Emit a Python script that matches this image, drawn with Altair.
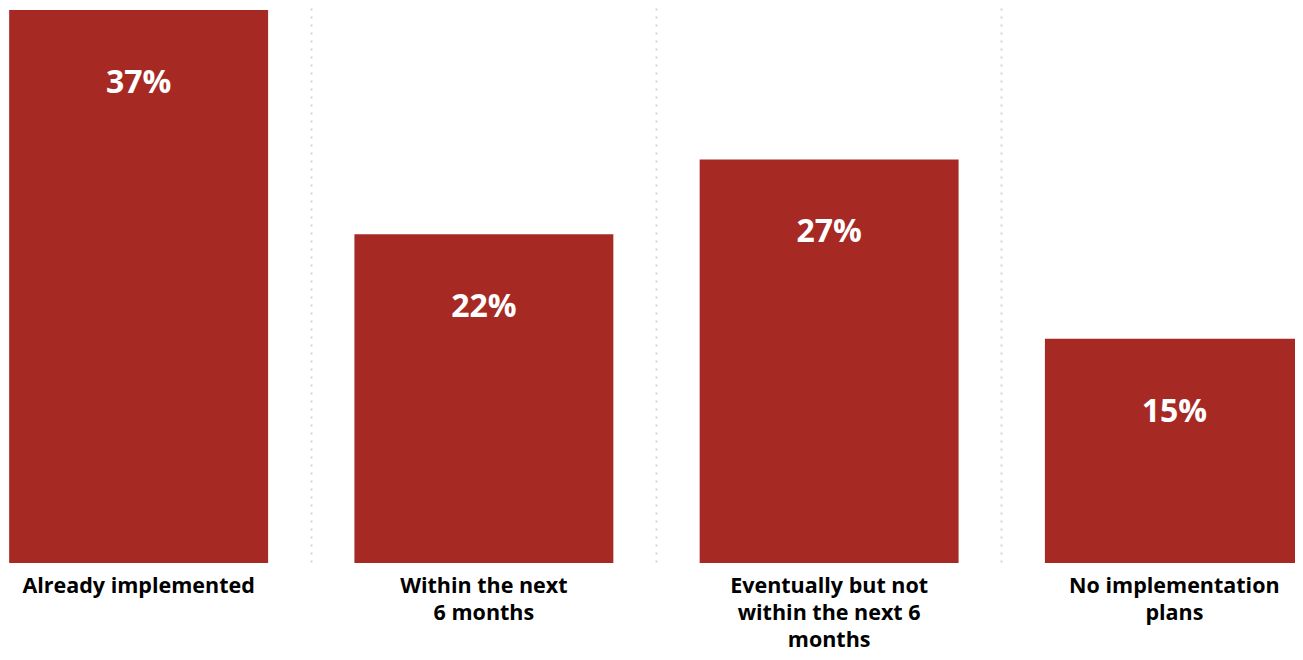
import altair as alt
import pandas as pd

categories = ["Already implemented", "Within the next|6 months",
              "Eventually but not|within the next 6|months", "No implementation|plans"]
values = [37, 22, 27, 15]
labels = ["37%", "22%", "27%", "15%"]

df = pd.DataFrame({"cat": categories, "val": values, "lab": labels})

x = alt.X("cat:N", sort=categories, title=None,
          scale=alt.Scale(range=[-42, 1339], paddingInner=0.25, paddingOuter=0.125),
          axis=alt.Axis(labelExpr="split(datum.label, '|')", labelAngle=0,
                        labelFont="Open Sans", labelFontWeight="bold", labelFontSize=21.5,
                        labelColor="#000000", labelLineHeight=27, labelPadding=12,
                        labelLimit=400, domain=False, ticks=False,
                        grid=True, bandPosition=-0.1667, gridColor="#d6d6d6",
                        gridDash=[2, 6], gridWidth=2))
y = alt.Y("val:Q", scale=alt.Scale(domain=[0, 37.13], nice=False, zero=True),
          axis=None)

bars = alt.Chart(df).mark_bar(color="#A62924").encode(x=x, y=y)
text = alt.Chart(df).mark_text(color="white", font="Open Sans", fontWeight="bold",
                               fontSize=32, dy=73, baseline="middle").encode(
    x=alt.X("cat:N", sort=categories), y="val:Q", text="lab:N")

chart = (bars + text).properties(
    width=1287, height=555,
    padding={"left": 0, "top": 0, "right": 0, "bottom": 89},
    autosize=alt.AutoSizeParams(type="none")
).configure_view(stroke=None)

chart.save("out.html", embed_options={"renderer": "svg", "actions": False})
